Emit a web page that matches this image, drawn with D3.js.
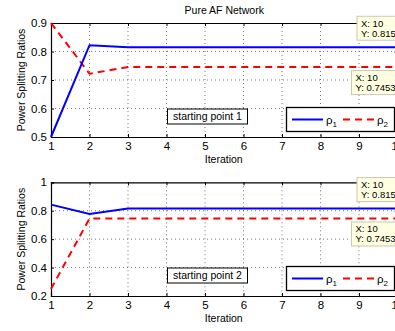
<!DOCTYPE html>
<html>
<head>
<meta charset="utf-8">
<script src="https://cdn.jsdelivr.net/npm/d3@7"></script>
<style>
  html, body { margin: 0; padding: 0; background: #fff; }
  svg { display: block; font-family: "Liberation Sans", Arial, Helvetica, sans-serif; }
</style>
</head>
<body>
<svg id="chart" width="395" height="331"></svg>
<script>
// Iteration index shared by both panels
const iterations = [1, 2, 3, 4, 5, 6, 7, 8, 9, 10];

// Starting point 1
const rho1Start1 = [0.5, 0.822, 0.815, 0.815, 0.815, 0.815, 0.815, 0.815, 0.815, 0.815];
const rho2Start1 = [0.9, 0.722, 0.7453, 0.7453, 0.7453, 0.7453, 0.7453, 0.7453, 0.7453, 0.7453];

// Starting point 2
const rho1Start2 = [0.843, 0.777, 0.815, 0.815, 0.815, 0.815, 0.815, 0.815, 0.815, 0.815];
const rho2Start2 = [0.25, 0.745, 0.7453, 0.7453, 0.7453, 0.7453, 0.7453, 0.7453, 0.7453, 0.7453];

const yTicksTop = [0.5, 0.6, 0.7, 0.8, 0.9];
const yTicksBottom = [0.2, 0.4, 0.6, 0.8, 1];
const yTickLabelsBottom = ["0.2", "0.4", "0.6", "0.8", "1"];

const panels = [
  { r1: rho1Start1, r2: rho2Start1, domain: [0.5, 0.9], ticks: yTicksTop,
    tickLabels: yTicksTop.map(d => d.toFixed(1)), top: 23, bottom: 137,
    note: "starting point 1", title: "Pure AF Network" },
  { r1: rho1Start2, r2: rho2Start2, domain: [0.2, 1], ticks: yTicksBottom,
    tickLabels: yTickLabelsBottom, top: 182.3, bottom: 296,
    note: "starting point 2", title: null }
];

const svg = d3.select("#chart");
const left = 51, right = 397.5;
const x = d3.scaleLinear().domain([1, 10]).range([left, right]);

panels.forEach(p => {
  const y = d3.scaleLinear().domain(p.domain).range([p.bottom, p.top]);
  const g = svg.append("g");

  // dotted grid
  g.selectAll(".gx").data(iterations.slice(1, -1)).join("line")
    .attr("x1", d => x(d)).attr("x2", d => x(d))
    .attr("y1", p.top).attr("y2", p.bottom)
    .attr("stroke", "#555").attr("stroke-width", 0.8).attr("stroke-dasharray", "1,3");
  g.selectAll(".gy").data(p.ticks.slice(1, -1)).join("line")
    .attr("x1", left).attr("x2", right)
    .attr("y1", d => y(d)).attr("y2", d => y(d))
    .attr("stroke", "#555").attr("stroke-width", 0.8).attr("stroke-dasharray", "1,3");

  // axes with inward ticks
  const xAxis = d3.axisBottom(x).tickValues(iterations).tickSize(-3).tickPadding(5);
  g.append("g").attr("transform", `translate(0,${p.bottom})`).call(xAxis);
  const xAxisTop = d3.axisTop(x).tickValues(iterations).tickSize(-3).tickFormat("");
  g.append("g").attr("transform", `translate(0,${p.top})`).call(xAxisTop);
  const yAxis = d3.axisLeft(y).tickValues(p.ticks).tickSize(-3).tickPadding(4)
    .tickFormat((d, i) => p.tickLabels[i]);
  g.append("g").attr("transform", `translate(${left},0)`).call(yAxis);
  g.append("g").attr("transform", `translate(${right},0)`)
    .call(d3.axisRight(y).tickValues(p.ticks).tickSize(-3).tickFormat(""));

  g.selectAll(".domain").attr("stroke", "#000").attr("stroke-width", 1.2);
  g.selectAll(".tick line").attr("stroke", "#000");
  g.selectAll(".tick text").attr("font-size", 11.5).attr("fill", "#000")
    .attr("font-family", "Liberation Sans, Arial, sans-serif");

  // axis titles
  g.append("text").attr("x", (left + right) / 2 - 0.5).attr("y", p.bottom + 26)
    .attr("text-anchor", "middle").attr("font-size", 10.5).text("Iteration");
  g.append("text")
    .attr("transform", `translate(25,${(p.top + p.bottom) / 2}) rotate(-90)`)
    .attr("text-anchor", "middle").attr("font-size", 10.5).text("Power Splitting Ratios");
  if (p.title) {
    svg.append("text").attr("x", (left + right) / 2).attr("y", 14)
      .attr("text-anchor", "middle").attr("font-size", 10.5).text(p.title);
  }

  // series
  const line = arr => d3.line().x((d, i) => x(iterations[i])).y(d => y(d))(arr);
  g.append("path").attr("d", line(p.r2)).attr("fill", "none")
    .attr("stroke", "#ff0000").attr("stroke-width", 2).attr("stroke-dasharray", "7,5");
  g.append("path").attr("d", line(p.r1)).attr("fill", "none")
    .attr("stroke", "#0000ff").attr("stroke-width", 2);

  // annotation box
  const nb = g.append("g");
  nb.append("rect").attr("x", 167.5).attr("y", p.bottom - 28)
    .attr("width", 80).attr("height", 15)
    .attr("fill", "#fff").attr("stroke", "#000").attr("stroke-width", 1);
  nb.append("text").attr("x", 207.5).attr("y", p.bottom - 17)
    .attr("text-anchor", "middle").attr("font-size", 10.5).text(p.note);

  // legend
  const lg = g.append("g");
  const ly = p.bottom - 29.5;
  lg.append("rect").attr("x", 286.5).attr("y", ly).attr("width", 108).attr("height", 24)
    .attr("fill", "#fff").attr("stroke", "#000").attr("stroke-width", 1.3);
  lg.append("line").attr("x1", 292).attr("x2", 323).attr("y1", ly + 12).attr("y2", ly + 12)
    .attr("stroke", "#0000ff").attr("stroke-width", 2);
  const t1 = lg.append("text").attr("x", 326).attr("y", ly + 16).attr("font-size", 11.5);
  t1.append("tspan").text("ρ");
  t1.append("tspan").attr("font-size", 8).attr("dy", 3).text("1");
  lg.append("line").attr("x1", 343).attr("x2", 374).attr("y1", ly + 12).attr("y2", ly + 12)
    .attr("stroke", "#ff0000").attr("stroke-width", 2).attr("stroke-dasharray", "7,5");
  const t2 = lg.append("text").attr("x", 377).attr("y", ly + 16).attr("font-size", 11.5);
  t2.append("tspan").text("ρ");
  t2.append("tspan").attr("font-size", 8).attr("dy", 3).text("2");

  // data tips at the last iteration
  const last = iterations.length - 1;
  const tips = [
    { v: p.r1[last], dx: -40.5, dy: -31, w: 44, label: d3.format(".3f")(p.r1[last]) },
    { v: p.r2[last], dx: -46, dy: 3.5, w: 50, label: d3.format(".4f")(p.r2[last]) }
  ];
  tips.forEach(t => {
    const tx = x(10) + t.dx, ty = y(t.v) + t.dy;
    const tg = g.append("g");
    tg.append("rect").attr("x", tx).attr("y", ty).attr("width", t.w).attr("height", 24)
      .attr("fill", "#ffffe1").attr("stroke", "#c8c8b4").attr("stroke-width", 1);
    tg.append("text").attr("x", tx + 4).attr("y", ty + 10.5).attr("font-size", 9.5).text("X: 10");
    tg.append("text").attr("x", tx + 4).attr("y", ty + 20.5).attr("font-size", 9.5).text("Y: " + t.label);
  });
});
</script>
</body>
</html>
